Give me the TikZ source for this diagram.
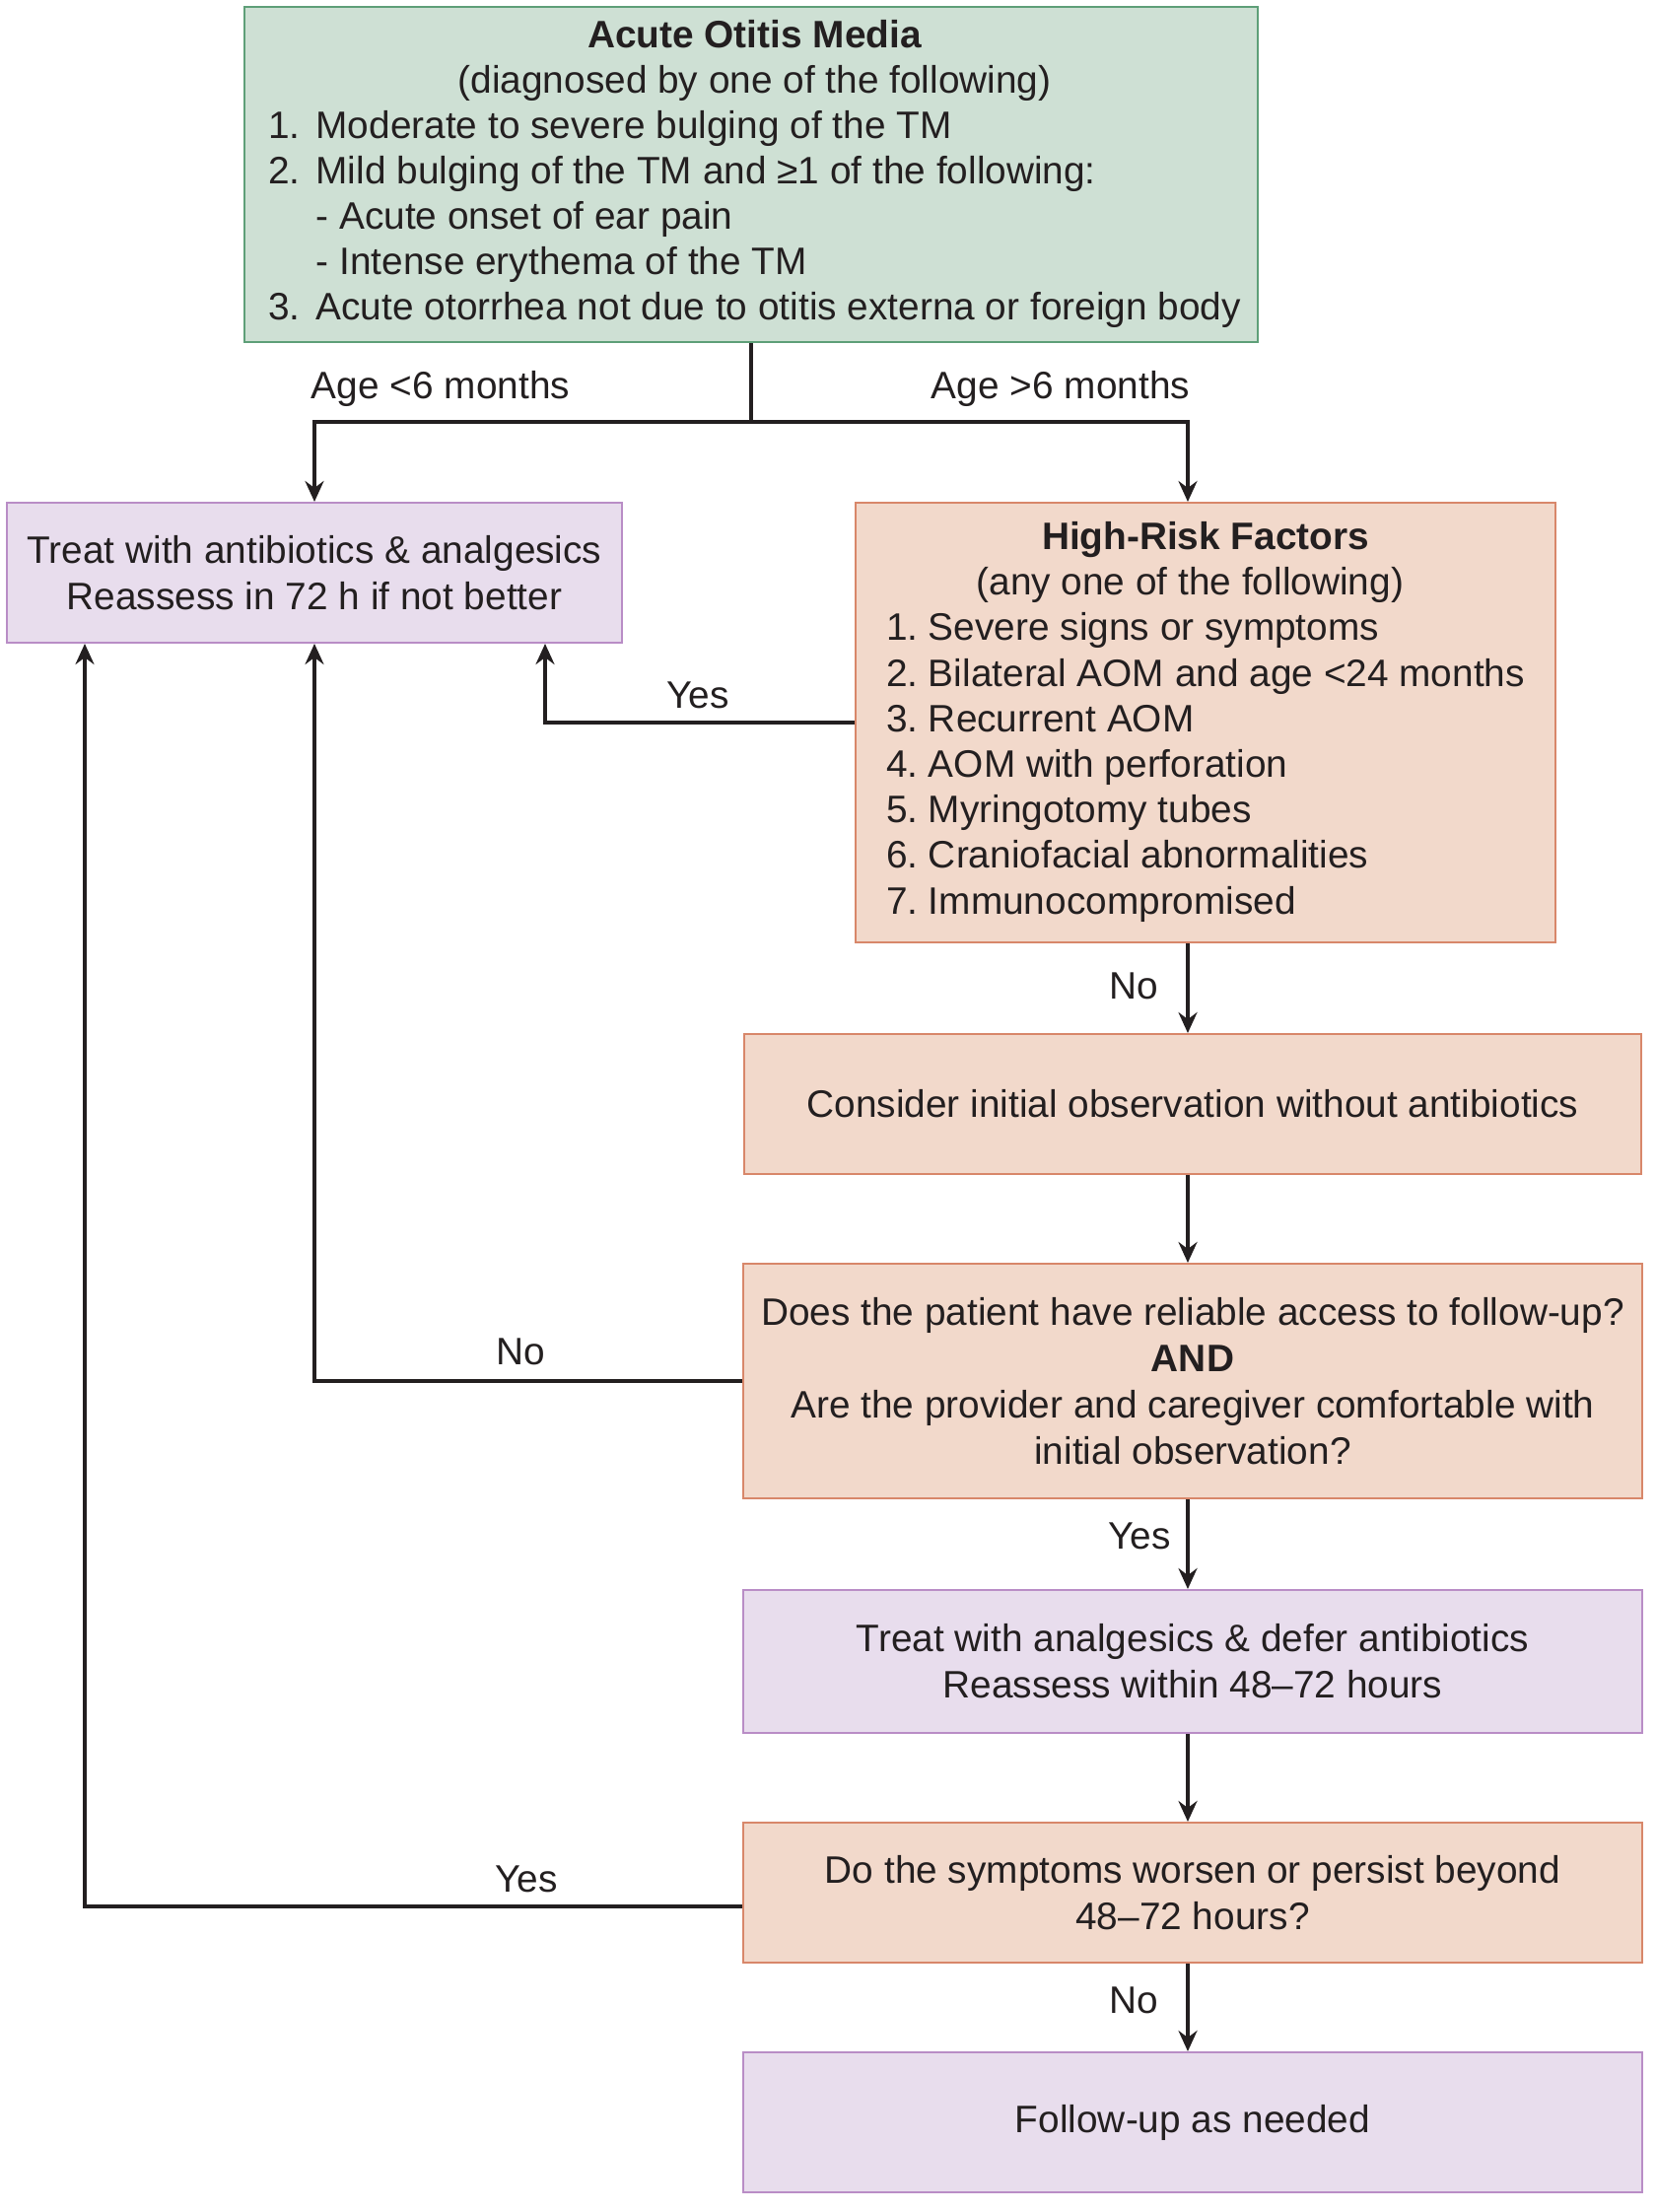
\documentclass[tikz,border=0pt]{standalone}
\usepackage{fontspec}
\setmainfont{Liberation Sans}
\usetikzlibrary{arrows.meta,calc}
\definecolor{linec}{HTML}{231F20}
\definecolor{greenfill}{HTML}{CEE0D4}
\definecolor{greenline}{HTML}{5E9F78}
\definecolor{purpfill}{HTML}{E8DDED}
\definecolor{purpline}{HTML}{B98DC6}
\definecolor{salfill}{HTML}{F2D9CB}
\definecolor{salline}{HTML}{D8876A}
\newcommand\mainfs{\fontsize{19.4}{23.5}\selectfont}
\begin{document}
\begin{tikzpicture}[x=0.5pt,y=-0.5pt,
  box/.style={line width=1pt, inner sep=0pt, align=center, font=\mainfs, text=linec},
  greenbox/.style={box, draw=greenline, fill=greenfill},
  purpbox/.style={box, draw=purpline, fill=purpfill},
  salbox/.style={box, draw=salline, fill=salfill},
  conn/.style={draw=linec, line width=2pt},
  arr/.style={conn, -{Stealth[length=10.5pt,width=9.5pt,inset=3.5pt]}},
  lab/.style={font=\mainfs, inner sep=0pt, text=linec}]
\useasboundingbox (0,0) rectangle (1680,2244);

% boxes
\node[greenbox, minimum width=514pt, minimum height=170pt] (aom) at (762,177) {%
\fontsize{19.4}{23}\selectfont
\rule{3.6pt}{0pt}\raisebox{-1.5pt}{%
\begin{tabular}{@{}l@{\hspace{8pt}}l@{}}
\multicolumn{2}{c}{\textbf{Acute Otitis Media}}\\
\multicolumn{2}{c}{(diagnosed by one of the following)}\\
1. & Moderate to severe bulging of the TM\\
2. & Mild bulging of the TM and ≥1 of the following:\\
   & - Acute onset of ear pain\\
   & - Intense erythema of the TM\\
3. & Acute otorrhea not due to otitis externa or foreign body
\end{tabular}}};

\node[purpbox, minimum width=312pt, minimum height=71pt] (treat1) at (319,581)
  {Treat with antibiotics \& analgesics\\Reassess in 72 h if not better};

\node[salbox, minimum width=355pt, minimum height=223pt] (hr) at (1223,733) {%
\fontsize{19.4}{23.1}\selectfont
\begin{tabular}{@{}l@{\hspace{5.3pt}}l@{}}
\multicolumn{2}{c}{\textbf{High-Risk Factors}}\\
\multicolumn{2}{c}{(any one of the following)\rule{15.7pt}{0pt}}\\
1. & Severe signs or symptoms\\
2. & Bilateral AOM and age <24 months\\
3. & Recurrent AOM\\
4. & AOM with perforation\\
5. & Myringotomy tubes\\
6. & Craniofacial abnormalities\\
7. & Immunocompromised
\end{tabular}};

\node[salbox, minimum width=455pt, minimum height=71pt] (consider) at (1210,1120)
  {Consider initial observation without antibiotics};

\node[salbox, minimum width=456pt, minimum height=119pt] (access) at (1210,1401)
  {Does the patient have reliable access to follow-up?\\\textbf{AND}\\Are the provider and caregiver comfortable with\\initial observation?};

\node[purpbox, minimum width=456pt, minimum height=72.5pt] (treat2) at (1210,1685.5)
  {Treat with analgesics \& defer antibiotics\\Reassess within 48–72 hours};

\node[salbox, minimum width=456pt, minimum height=71pt] (symptoms) at (1210,1920)
  {Do the symptoms worsen or persist beyond\\48–72 hours?};

\node[purpbox, minimum width=456pt, minimum height=71pt] (follow) at (1210,2153)
  {Follow-up as needed};

% helper coordinates
\coordinate (split) at (762,428);
\coordinate (colR) at (1205,0);
\coordinate (xA) at (553,0);
\coordinate (xL) at (86,0);
\coordinate (yS) at (0,1934);

% connectors
\draw[conn] (aom.south) -- (split);
\draw[arr] (split) -| (treat1.north);
\draw[arr] (split) -| (hr.north -| colR);
\draw[arr] (hr.west) -| (xA |- treat1.south);
\draw[arr] (hr.south -| colR) -- (consider.north -| colR);
\draw[arr] (consider.south -| colR) -- (access.north -| colR);
\draw[arr] (access.west) -| (treat1.south);
\draw[arr] (access.south -| colR) -- (treat2.north -| colR);
\draw[arr] (treat2.south -| colR) -- (symptoms.north -| colR);
\draw[arr] (symptoms.west |- yS) -| (xL |- treat1.south);
\draw[arr] (symptoms.south -| colR) -- (follow.north -| colR);

% labels
\node[lab] (l1) at (447,394) {Age <6 months};
\node[lab] (l2) at (1076,394) {Age >6 months};
\node[lab] (l3) at (708,705) {Yes};
\node[lab] (l4) at (1150,1000) {No};
\node[lab] (l5) at (528,1371) {No};
\node[lab] (l6) at (1156,1558) {Yes};
\node[lab] (l7) at (534,1906) {Yes};
\node[lab] (l8) at (1150,2029) {No};
\end{tikzpicture}
\end{document}
